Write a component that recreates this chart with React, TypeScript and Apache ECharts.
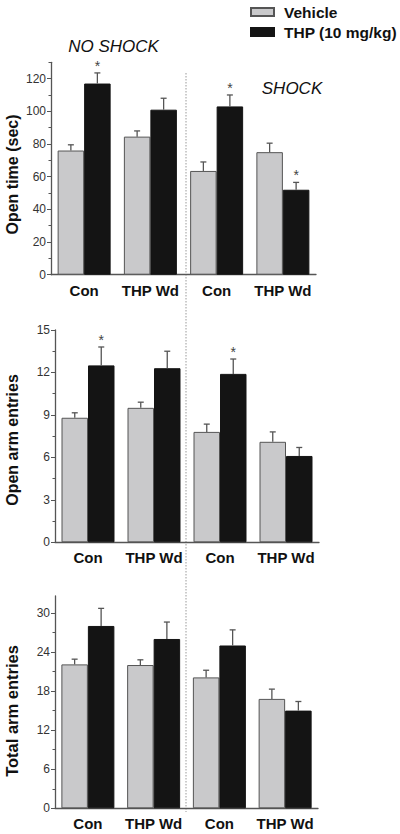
import React, { useEffect, useRef } from 'react';
import * as echarts from 'echarts';

const categories = ['Con', 'THP Wd', 'Con', 'THP Wd'];
const seriesNames = ['Vehicle', 'THP (10 mg/kg)'];

// Panel 1: Open time (sec)
const openTimeVehicle = [76, 84.5, 63.5, 75];
const openTimeVehicleSem = [3.5, 3.5, 5.5, 5.5];
const openTimeThp = [117, 101, 103, 52];
const openTimeThpSem = [6.5, 7, 7, 4.5];
const openTimeThpSig = [true, false, true, true];
const openTimeMajor = [0, 20, 40, 60, 80, 100, 120];
const openTimeMinor = [10, 30, 50, 70, 90, 110, 130];

// Panel 2: Open arm entries
const openArmVehicle = [8.8, 9.5, 7.8, 7.1];
const openArmVehicleSem = [0.35, 0.4, 0.55, 0.7];
const openArmThp = [12.5, 12.3, 11.9, 6.1];
const openArmThpSem = [1.3, 1.2, 1.05, 0.6];
const openArmThpSig = [true, false, true, false];
const openArmMajor = [0, 3, 6, 9, 12, 15];
const openArmMinor = [1.5, 4.5, 7.5, 10.5, 13.5];

// Panel 3: Total arm entries
const totalArmVehicle = [22.1, 22.0, 20.1, 16.8];
const totalArmVehicleSem = [0.8, 0.8, 1.1, 1.5];
const totalArmThp = [28.0, 26.0, 25.0, 15.0];
const totalArmThpSem = [2.7, 2.6, 2.4, 1.4];
const totalArmThpSig = [false, false, false, false];
const totalArmMajor = [0, 6, 12, 18, 24, 30];
const totalArmMinor = [3, 9, 15, 21, 27];

const FONT = 'Liberation Sans, Arial, Helvetica, sans-serif';
const BAR_W = 26.5;
const AXIS_COLOR = '#555';

const panels = [
  {
    name: 'Open time (sec)', veh: openTimeVehicle, vehSem: openTimeVehicleSem, thp: openTimeThp, thpSem: openTimeThpSem,
    sig: openTimeThpSig, major: openTimeMajor, minor: openTimeMinor, max: 130,
    grid: { left: 51, top: 62.3, width: 265, height: 212.4 }, nameX: 12.5, nameY: 174.5, nameSize: 16,
  },
  {
    name: 'Open arm entries', veh: openArmVehicle, vehSem: openArmVehicleSem, thp: openArmThp, thpSem: openArmThpSem,
    sig: openArmThpSig, major: openArmMajor, minor: openArmMinor, max: 15,
    grid: { left: 55, top: 330, width: 264, height: 212.3 }, nameX: 12, nameY: 440, nameSize: 16,
  },
  {
    name: 'Total arm entries', veh: totalArmVehicle, vehSem: totalArmVehicleSem, thp: totalArmThp, thpSem: totalArmThpSem,
    sig: totalArmThpSig, major: totalArmMajor, minor: totalArmMinor, max: 32.6,
    grid: { left: 55, top: 596, width: 263, height: 212.3 }, nameX: 12, nameY: 711, nameSize: 16.5,
  },
];

function errorRender(params: any, api: any) {
  const idx = api.value(0);
  const mean = api.value(1);
  const top = api.value(2);
  const sign = api.value(3);
  const sig = api.value(4);
  const p0 = api.coord([idx, mean]);
  const p1 = api.coord([idx, top]);
  const x = p0[0] + sign * BAR_W / 2;
  const children: any[] = [
    { type: 'line', shape: { x1: x, y1: p0[1], x2: x, y2: p1[1] }, style: { stroke: '#555', lineWidth: 1.3 } },
    { type: 'line', shape: { x1: x - 3, y1: p1[1], x2: x + 3, y2: p1[1] }, style: { stroke: '#555', lineWidth: 1.3 } },
  ];
  if (sig) {
    children.push({
      type: 'text',
      style: { text: '*', x, y: p1[1] - 7.2, fill: '#444', font: `14px ${FONT}`, textAlign: 'center', textVerticalAlign: 'middle' },
    });
  }
  return { type: 'group', children };
}

export default function App() {
  const ref = useRef<HTMLDivElement>(null);
  useEffect(() => {
    document.body.style.margin = '0';
    document.body.style.overflow = 'hidden';
    if (!ref.current) return;
    const chart = echarts.init(ref.current, null, { renderer: 'svg' });

    const grids: any[] = [];
    const xAxes: any[] = [];
    const yAxes: any[] = [];
    const series: any[] = [];
    const graphic: any[] = [];

    panels.forEach((p, i) => {
      grids.push({ ...p.grid, containLabel: false });
      xAxes.push({
        type: 'category', gridIndex: i, data: categories,
        axisLine: { lineStyle: { color: AXIS_COLOR, width: 1.3 } },
        axisTick: { show: false },
        axisLabel: { interval: 0, fontSize: 15, fontWeight: 'bold', color: '#111', margin: 8, fontFamily: FONT },
      });
      yAxes.push({
        type: 'value', gridIndex: i, min: 0, max: p.max, position: 'left', offset: 0,
        axisLine: { show: true, lineStyle: { color: AXIS_COLOR, width: 1.3 } },
        axisTick: { show: true, length: 4, customValues: p.major, lineStyle: { color: AXIS_COLOR, width: 1 } },
        axisLabel: { customValues: p.major, fontSize: 12, color: '#333', margin: 5, fontFamily: FONT },
        splitLine: { show: false },
      });
      yAxes.push({
        type: 'value', gridIndex: i, min: 0, max: p.max, position: 'left', offset: 0,
        axisLine: { show: false },
        axisTick: { show: true, length: 2.5, customValues: p.minor, lineStyle: { color: AXIS_COLOR, width: 1 } },
        axisLabel: { show: false },
        splitLine: { show: false },
      });
      series.push({
        type: 'bar', name: seriesNames[0], xAxisIndex: i, yAxisIndex: 2 * i, data: p.veh,
        barWidth: BAR_W, barGap: '0%',
        itemStyle: { color: '#c9c9cb', borderColor: '#555', borderWidth: 1 },
      });
      series.push({
        type: 'bar', name: seriesNames[1], xAxisIndex: i, yAxisIndex: 2 * i, data: p.thp,
        barWidth: BAR_W, barGap: '0%',
        itemStyle: { color: '#141414', borderColor: '#141414', borderWidth: 1 },
      });
      const errData: any[] = [];
      p.veh.forEach((v, k) => errData.push([k, v, v + p.vehSem[k], -1, 0]));
      p.thp.forEach((v, k) => errData.push([k, v, v + p.thpSem[k], 1, p.sig[k] ? 1 : 0]));
      series.push({
        type: 'custom', xAxisIndex: i, yAxisIndex: 2 * i, data: errData, z: 3,
        encode: { x: 0, y: [1, 2] }, renderItem: errorRender, silent: true,
      });
      graphic.push({
        type: 'text', x: p.nameX, y: p.nameY, rotation: Math.PI / 2,
        style: { text: p.name, font: `bold ${p.nameSize}px ${FONT}`, fill: '#111', textAlign: 'center', textVerticalAlign: 'middle' },
      });
    });

    graphic.push({
      type: 'line', shape: { x1: 186, y1: 73, x2: 186, y2: 812 },
      style: { stroke: '#999', lineWidth: 1, lineDash: [1.5, 1.5] }, z: 0,
    });
    graphic.push({
      type: 'text', x: 113.5, y: 46.7,
      style: { text: 'NO SHOCK', font: `italic 17px ${FONT}`, fill: '#111', textAlign: 'center', textVerticalAlign: 'middle' },
    });
    graphic.push({
      type: 'text', x: 292, y: 88.2,
      style: { text: 'SHOCK', font: `italic 17px ${FONT}`, fill: '#111', textAlign: 'center', textVerticalAlign: 'middle' },
    });

    chart.setOption({
      animation: false,
      backgroundColor: '#fff',
      legend: {
        data: seriesNames, orient: 'vertical', left: 250, top: 4, itemWidth: 23, itemHeight: 8, itemGap: 4,
        padding: 0, icon: 'rect', selectedMode: false,
        textStyle: { fontSize: 15.5, fontWeight: 'bold', color: '#111', fontFamily: FONT, padding: [0, 0, 0, 5] },
      },
      grid: grids,
      xAxis: xAxes,
      yAxis: yAxes,
      series,
      graphic,
    });
    return () => chart.dispose();
  }, []);
  return <div ref={ref} style={{ width: 400, height: 834 }} />;
}
